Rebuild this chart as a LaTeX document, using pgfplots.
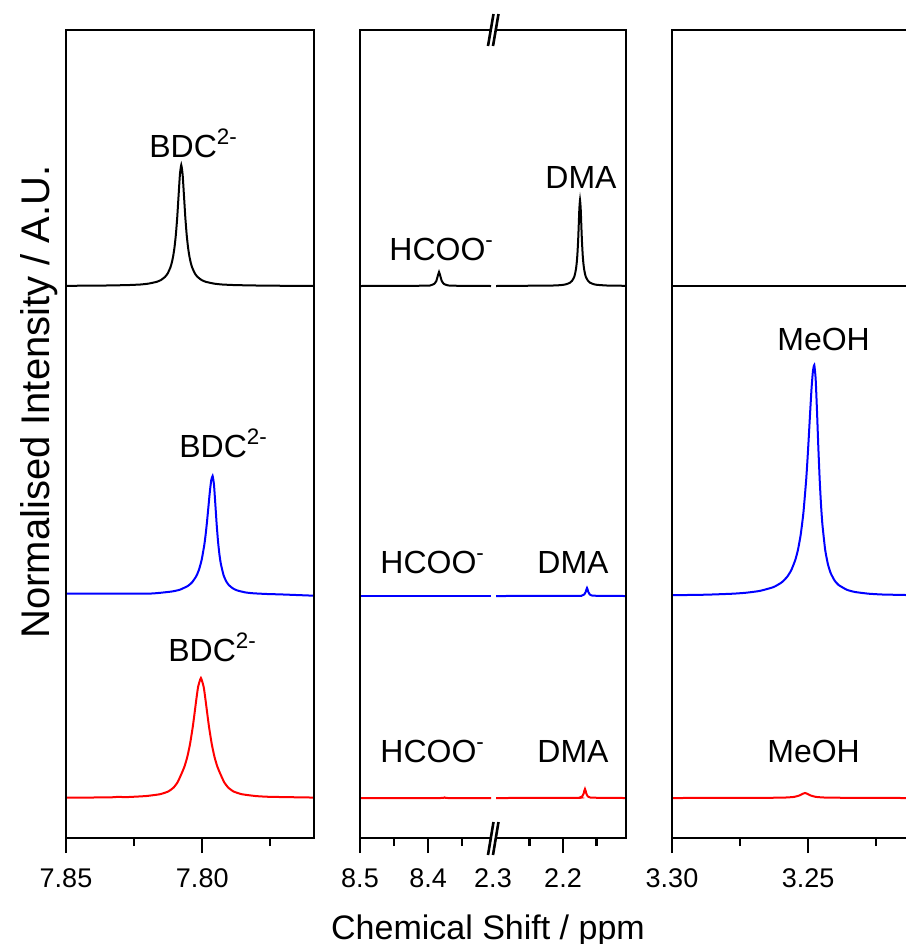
\documentclass[border=0pt]{standalone}
\usepackage{fontspec}
\setmainfont{Liberation Sans}
\usepackage{pgfplots}
\pgfplotsset{compat=1.18}
\begin{document}
\begin{tikzpicture}
\path[use as bounding box] (0,0) rectangle (453pt,-472pt);
\pgfplotsset{
  panel/.style={
    scale only axis, height=404pt, ymin=0, ymax=808, ytick=\empty,
    x dir=reverse, axis x line=box, axis y line=none,
    xtick pos=left, tick align=outside,
    axis line style={line width=1.4pt, line cap=rect},
    major tick length=7.5pt, minor tick length=4pt,
    tick style={line width=1.1pt, black},
    xticklabel style={font=\fontsize{13.5}{16}\selectfont, yshift=-4.5pt},
    clip mode=individual, anchor=south west,
  },
  spec/.style={line width=1pt, mark=none, smooth, tension=0.3},
}
% ---------- left panel ----------
\begin{axis}[panel, name=A1, at={(33pt,-419pt)}, width=124pt,
  xmin=7.759, xmax=7.85, xtick={7.85,7.80}, xticklabels={7.85,7.80},
  minor xtick={7.825,7.775}]
\addplot[spec, black] coordinates {
(7.85,552.2) (7.8377,552.4) (7.8277,552.9) (7.8227,553.5) (7.8197,554.4)
(7.8167,556.2) (7.8152,557.9) (7.8137,561.0) (7.8127,564.5) (7.8117,570.5)
(7.8112,575.1) (7.8107,581.4) (7.8102,590.3) (7.8097,602.8) (7.8092,620.0)
(7.8087,641.9) (7.8082,663.4) (7.8077,673.0) (7.8072,663.4) (7.8067,641.9)
(7.8062,620.0) (7.8057,602.8) (7.8052,590.3) (7.8047,581.4) (7.8042,575.1)
(7.8037,570.5) (7.8027,564.5) (7.8017,561.0) (7.8002,557.9) (7.7987,556.2)
(7.7957,554.4) (7.7927,553.5) (7.7877,552.9) (7.7777,552.4) (7.759,552.0)};
\addplot[spec, blue] coordinates {
(7.85,244.5) (7.8212,244.3) (7.8162,245.0) (7.8112,246.5) (7.8082,248.3)
(7.8052,252.2) (7.8037,255.8) (7.8022,261.8) (7.8012,268.3) (7.8002,278.3)
(7.7992,294.0) (7.7987,304.8) (7.7982,317.8) (7.7977,332.3) (7.7972,346.7)
(7.7967,357.8) (7.7962,362.0) (7.7957,353.5) (7.7952,333.9) (7.7947,313.2)
(7.7942,296.2) (7.7937,283.6) (7.7932,274.5) (7.7922,263.0) (7.7912,256.6)
(7.7902,252.8) (7.7887,249.5) (7.7872,247.6) (7.7842,245.6) (7.7812,244.7)
(7.7762,244.0) (7.7712,243.6) (7.759,242.3)};
\addplot[spec, red] coordinates {
(7.85,40.3) (7.8405,40.5) (7.834,40.6) (7.831,41.1) (7.828,40.9) (7.8255,41.2)
(7.8205,42.0) (7.8155,43.8) (7.8125,46.5) (7.8105,50.5) (7.809,56.0)
(7.8075,65.0) (7.8065,71.7) (7.8055,81.0) (7.8045,93.7) (7.8035,110.8)
(7.803,121.0) (7.8025,131.7) (7.802,142.2) (7.8015,151.4) (7.8005,160.0)
(7.7995,151.4) (7.799,142.2) (7.7985,131.7) (7.798,121.0) (7.7975,110.8)
(7.7965,93.7) (7.7955,81.0) (7.7945,71.7) (7.7935,65.0) (7.792,56.0)
(7.7905,50.5) (7.7885,46.5) (7.7855,43.8) (7.7805,42.0) (7.7755,41.2)
(7.7605,40.5) (7.759,40.4)};
\end{axis}
% ---------- middle panel, left part ----------
\begin{axis}[panel, name=A2, at={(180pt,-419pt)}, width=65.5pt,
  xmin=8.3074, xmax=8.5, xtick={8.5,8.4}, xticklabels={8.5,8.4},
  minor xtick={8.45,8.35}]
\addplot[spec, black] coordinates {
(8.5,552.0) (8.4038,552.3) (8.3958,552.8) (8.3908,554.2) (8.3878,557.0)
(8.3858,561.7) (8.3838,566.0) (8.3818,561.7) (8.3798,557.0) (8.3768,554.2)
(8.3718,552.8) (8.3638,552.3) (8.3074,552.0)};
\addplot[spec, blue] coordinates {(8.5,242.5) (8.3074,242.5)};
\addplot[spec, red] coordinates {
(8.5,40.0) (8.382,40.0) (8.3765,41.0) (8.371,40.0) (8.3074,40.0)};
\end{axis}
% ---------- middle panel, right part ----------
\begin{axis}[panel, name=A3, at={(248pt,-419pt)}, width=65pt,
  xmin=2.106, xmax=2.3, xtick={2.2}, xticklabels={2.2},
  minor xtick={2.25,2.15},
  extra x ticks={2.3}, extra x tick labels={2.3},
  extra x tick style={tick style={draw=none}, xticklabel style={xshift=-1.5pt}}]
\addplot[spec, black] coordinates {
(2.3,552.0) (2.2146,552.5) (2.1996,553.2) (2.1946,553.9) (2.1896,555.3)
(2.1866,557.1) (2.1836,560.6) (2.1821,563.9) (2.1806,569.2) (2.1796,574.8)
(2.1786,582.9) (2.1776,595.0) (2.1771,602.8) (2.1766,611.6) (2.1761,620.8)
(2.1756,629.4) (2.1746,638.0) (2.1736,629.4) (2.1731,620.8) (2.1726,611.6)
(2.1721,602.8) (2.1716,595.0) (2.1706,582.9) (2.1696,574.8) (2.1686,569.2)
(2.1671,563.9) (2.1656,560.6) (2.1626,557.1) (2.1596,555.3) (2.1546,553.9)
(2.1496,553.2) (2.1346,552.5) (2.106,552.2)};
\addplot[spec, blue] coordinates {
(2.3,242.0) (2.18,242.1) (2.1722,242.4) (2.1682,243.6) (2.1662,246.0)
(2.1652,248.4) (2.1642,250.0) (2.1632,248.4) (2.1622,246.0) (2.1602,243.6)
(2.1562,242.4) (2.14,242.1) (2.106,242.0)};
\addplot[spec, red] coordinates {
(2.3,40.0) (2.18,40.1) (2.1752,40.5) (2.1712,41.8) (2.1692,44.5)
(2.1682,47.2) (2.1672,49.0) (2.1662,47.2) (2.1652,44.5) (2.1632,41.8)
(2.1592,40.5) (2.14,40.1) (2.106,40.0)};
\end{axis}
% ---------- right panel ----------
\begin{axis}[panel, name=A4, at={(336pt,-419pt)}, width=117pt,
  xmin=3.214, xmax=3.30, xtick={3.30,3.25}, xticklabels={3.30,3.25},
  minor xtick={3.275,3.225}]
\addplot[spec, black] coordinates {(3.30,552.0) (3.214,552.0)};
\addplot[spec, blue] coordinates {
(3.30,242.8) (3.2877,243.3) (3.2777,244.3) (3.2727,245.3) (3.2677,247.1)
(3.2627,250.9) (3.2597,255.6) (3.2577,261.1) (3.2562,267.6) (3.2547,277.9)
(3.2537,288.2) (3.2527,303.2) (3.2517,325.2) (3.2507,357.5) (3.2502,378.4)
(3.2497,402.0) (3.2492,426.8) (3.2487,449.9) (3.2482,466.8) (3.2477,473.0)
(3.2472,459.4) (3.2467,426.8) (3.2462,389.8) (3.2457,357.5) (3.2452,332.1)
(3.2447,313.1) (3.2437,288.2) (3.2427,273.9) (3.2417,265.1) (3.2402,257.3)
(3.2387,252.9) (3.2357,248.2) (3.2327,246.0) (3.2277,244.3) (3.2227,243.5)
(3.214,243.0)};
\addplot[spec, red] coordinates {
(3.30,40.0) (3.27,40.1) (3.2591,40.4) (3.2551,41.1) (3.2531,42.6)
(3.2521,44.0) (3.2511,45.0) (3.2501,44.0) (3.2491,42.6) (3.2471,41.1)
(3.2431,40.4) (3.23,40.1) (3.214,40.0)};
\end{axis}
% ---------- frame verticals ----------
\draw[line width=1.4pt, line cap=rect]
  (A1.south west)--(A1.north west) (A1.south east)--(A1.north east)
  (A2.south west)--(A2.north west) (A3.south east)--(A3.north east)
  (A4.south west)--(A4.north west);
% ---------- break marks ----------
\draw[line width=1.3pt] (244pt,-23pt)--(246.75pt,-7pt) (246.5pt,-23pt)--(249.25pt,-7pt);
\draw[line width=1.3pt] (244pt,-427.5pt)--(246.75pt,-411pt) (246.5pt,-427.5pt)--(249.25pt,-411pt);
% ---------- annotations ----------
\begin{scope}[every node/.style={inner sep=0pt, anchor=base west, font=\fontsize{16}{19}\selectfont}]
\node at (74.5pt,-78.5pt) {BDC\textsuperscript{2-}};
\node at (89.5pt,-228.5pt) {BDC\textsuperscript{2-}};
\node at (84pt,-330.5pt) {BDC\textsuperscript{2-}};
\node at (194.5pt,-130pt) {HCOO\textsuperscript{-}};
\node at (272.5pt,-94pt) {DMA};
\node at (190pt,-286.5pt) {HCOO\textsuperscript{-}};
\node at (268.5pt,-286.5pt) {DMA};
\node at (190pt,-381pt) {HCOO\textsuperscript{-}};
\node at (268.5pt,-381pt) {DMA};
\node at (388.5pt,-175pt) {MeOH};
\node at (383.5pt,-381pt) {MeOH};
\end{scope}
% ---------- axis titles ----------
\node[inner sep=0pt, anchor=base, font=\fontsize{17}{20}\selectfont] at (244pt,-469.5pt) {Chemical Shift / ppm};
\node[inner sep=0pt, anchor=base, rotate=90, font=\fontsize{20}{24}\selectfont] at (24.5pt,-201pt) {Normalised Intensity / A.U.};
\end{tikzpicture}
\end{document}
